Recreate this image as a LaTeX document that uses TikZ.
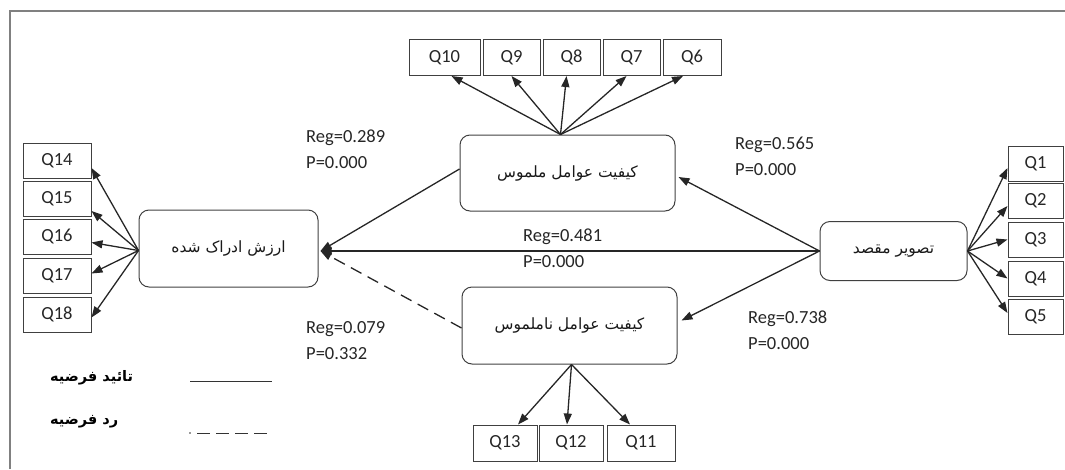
\documentclass[tikz,border=0pt]{standalone}
\usepackage{fontspec}
\setmainfont{Carlito}
\newfontfamily\fa[Script=Arabic]{DejaVu Sans}
\TeXXeTstate=1
\usetikzlibrary{arrows.meta,calc}
\begin{document}
\begin{tikzpicture}[x=1pt,y=-1pt,
  qbox/.style={draw=black!75, line width=1pt, minimum height=35pt, inner sep=0pt, text=black!85, font=\fontsize{18.5}{18.5}\selectfont},
  cbox/.style={draw=black!75, line width=1pt, rounded corners=10pt, inner sep=0pt, text=black!90, font=\fa\fontsize{15.5}{15.5}\selectfont},
  link/.style={line width=1.3pt, draw=black!85, -{Triangle[length=11pt,width=8pt]}},
  lab/.style={anchor=west, align=left, inner sep=0pt, text=black!85, font=\fontsize{18.5}{26}\selectfont},
  leg/.style={anchor=west, inner sep=0pt, text=black, font=\fa\bfseries\fontsize{14.5}{14.5}\selectfont}]
\useasboundingbox (0,0) rectangle (1065,469);
\draw[black!50, line width=1.5pt] (10,469) -- (10,11) -- (1065,11);

% construct boxes
\node[cbox, minimum width=215pt, minimum height=76pt] (tang) at (567.5,173) {\beginR کیفیت عوامل ملموس\endR};
\node[cbox, minimum width=215pt, minimum height=77pt] (intang) at (569.5,325.5) {\beginR کیفیت عوامل ناملموس\endR};
\node[cbox, minimum width=179pt, minimum height=77pt] (perc) at (228.5,248.5) {\beginR ارزش ادراک شده\endR};
\node[cbox, minimum width=147pt, minimum height=59pt] (dest) at (893.5,251) {\beginR تصویر مقصد\endR};

% top items
\node[qbox, minimum width=71pt, minimum height=36pt] (q10) at (444.5,57.5) {Q10};
\node[qbox, minimum width=57pt, minimum height=36pt] (q9) at (511.5,57.5) {Q9};
\node[qbox, minimum width=57pt, minimum height=36pt] (q8) at (571.5,57.5) {Q8};
\node[qbox, minimum width=57pt, minimum height=36pt] (q7) at (631.5,57.5) {Q7};
\node[qbox, minimum width=58pt, minimum height=36pt] (q6) at (692,57.5) {Q6};
% left items
\node[qbox, minimum width=68pt] (q14) at (57,161) {Q14};
\node[qbox, minimum width=68pt] (q15) at (57,199) {Q15};
\node[qbox, minimum width=68pt] (q16) at (57,236.5) {Q16};
\node[qbox, minimum width=68pt] (q17) at (57,275.5) {Q17};
\node[qbox, minimum width=68pt] (q18) at (57,314.5) {Q18};
% right items
\node[qbox, minimum width=55pt] (q1) at (1035.5,163.5) {Q1};
\node[qbox, minimum width=55pt] (q2) at (1035.5,201) {Q2};
\node[qbox, minimum width=55pt] (q3) at (1035.5,239.5) {Q3};
\node[qbox, minimum width=55pt] (q4) at (1035.5,278.5) {Q4};
\node[qbox, minimum width=55pt] (q5) at (1035.5,316.5) {Q5};
% bottom items
\node[qbox, minimum width=64pt, minimum height=36pt] (q13) at (505,443) {Q13};
\node[qbox, minimum width=64pt, minimum height=36pt] (q12) at (571,443) {Q12};
\node[qbox, minimum width=68pt, minimum height=36pt] (q11) at (641,443) {Q11};

% item arrows
\coordinate (ts) at ([xshift=-7pt]tang.north);
\draw[link] (ts) -- ([xshift=7pt]q10.south);
\draw[link] (ts) -- (q9.south);
\draw[link] (ts) -- ([xshift=-5pt]q8.south);
\draw[link] (ts) -- ([xshift=-5pt]q7.south);
\draw[link] (ts) -- ([xshift=-9pt]q6.south);

\coordinate (ps) at ([yshift=-2pt]perc.west);
\draw[link] (ps) -- ([yshift=-7pt]q14.east);
\draw[link] (ps) -- ([yshift=-12pt]q15.east);
\draw[link] (ps) -- ([yshift=-6pt]q16.east);
\draw[link] (ps) -- ([yshift=2pt]q17.east);
\draw[link] (ps) -- ([yshift=-3pt]q18.east);

\draw[link] (dest.east) -- ([yshift=-4.5pt]q1.west);
\draw[link] (dest.east) -- ([yshift=-5pt]q2.west);
\draw[link] (dest.east) -- (q3.west);
\draw[link] (dest.east) -- (q4.west);
\draw[link] (dest.east) -- ([yshift=3.5pt]q5.west);

\coordinate (is) at ([xshift=2pt]intang.south);
\draw[link] (is) -- ([xshift=13pt]q13.north);
\draw[link] (is) -- ([xshift=-4pt]q12.north);
\draw[link] (is) -- ([xshift=-11pt]q11.north);

% structural paths
\coordinate (pin) at ([xshift=2pt,yshift=-2.5pt]perc.east);
\draw[link] ([yshift=4pt]tang.west) -- (pin);
\draw[link] (dest.west) -- (pin);
\draw[link, dash pattern=on 12pt off 7pt] ([yshift=-2.5pt]intang.west) -- (pin);
\draw[link] (dest.west) -- ([xshift=3pt,yshift=-4pt]tang.east);
\draw[link] (dest.west) -- ([xshift=4pt,yshift=5pt]intang.east);

% labels
\node[lab] (l1) at (306,149.5) {Reg=0.289\\P=0.000};
\node[lab] (l2) at (735,156) {Reg=0.565\\P=0.000};
\node[lab] (l3) at (523,248) {Reg=0.481\\P=0.000};
\node[lab] (l4) at (748,330.5) {Reg=0.738\\P=0.000};
\node[lab] (l5) at (306,341) {Reg=0.079\\P=0.332};

% legend
\node[leg] (lg1) at (50,378) {\beginR تائید فرضیه\endR};
\node[leg] (lg2) at (50,422) {\beginR رد فرضیه\endR};
\draw[black!80, line width=1pt] (190,381) -- (272,381);
\fill[black!80] (190,433) circle (0.8pt);
\draw[black!80, line width=1pt, dash pattern=on 13pt off 6pt] (197,433) -- (272,433);
\end{tikzpicture}
\end{document}
